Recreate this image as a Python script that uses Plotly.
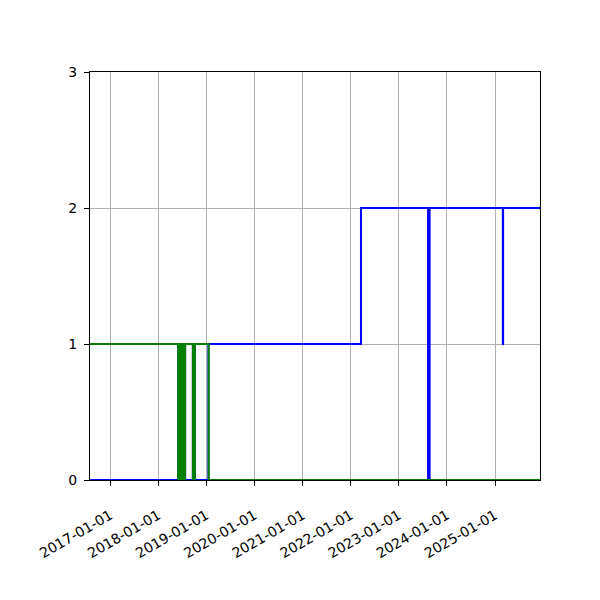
import plotly.graph_objects as go

# Zustandsverlauf (Stufenwerte an Wechselzeitpunkten)
green_dates = [
    "2016-08-01", "2018-06-01", "2018-06-05", "2018-06-09", "2018-06-13",
    "2018-06-17", "2018-06-21", "2018-06-25", "2018-06-29", "2018-07-03",
    "2018-07-07", "2018-07-11", "2018-07-15", "2018-07-19", "2018-07-24",
    "2018-09-21", "2018-10-06", "2019-01-19", "2025-12-08",
]
green_vals = [1, 0, 1, 0, 1, 0, 1, 0, 1, 0, 1, 0, 1, 0, 1, 0, 1, 0, 0]

blue_dates = [
    "2016-08-01", "2018-06-01", "2018-07-24", "2018-09-21", "2018-10-06",
    "2019-01-17", "2022-03-20", "2023-08-11", "2023-08-23", "2025-03-01",
    "2025-03-03", "2025-12-08",
]
blue_vals = [0, 1, 0, 1, 0, 1, 2, 0, 2, 1, 2, 2]

year_ticks = ["2017-01-01", "2018-01-01", "2019-01-01", "2020-01-01",
              "2021-01-01", "2022-01-01", "2023-01-01", "2024-01-01",
              "2025-01-01"]
y_ticks = [0, 1, 2, 3]
x_range = ["2016-08-01", "2025-12-08"]

fig = go.Figure()
fig.add_trace(go.Scatter(x=blue_dates, y=blue_vals, mode="lines",
                         line=dict(color="#0000ff", width=2, shape="hv"),
                         showlegend=False))
fig.add_trace(go.Scatter(x=green_dates, y=green_vals, mode="lines",
                         line=dict(color="#008000", width=2, shape="hv"),
                         showlegend=False))

axis_common = dict(
    showgrid=True, gridcolor="#b0b0b0", gridwidth=1,
    showline=True, linecolor="black", linewidth=1, mirror=True,
    ticks="outside", ticklen=5, tickcolor="black", tickwidth=1,
    zeroline=False,
    tickfont=dict(family="DejaVu Sans", size=14, color="black"),
)

fig.update_xaxes(
    type="date", range=x_range,
    tickvals=year_ticks, ticktext=year_ticks,
    tickangle=-30, ticklabelstandoff=16, **axis_common,
)
fig.update_yaxes(range=[0, 3], tickvals=y_ticks, ticklabelstandoff=4,
                 **axis_common)

# Seite hat 8px Rand -> Figur etwas kleiner, Plotfläche bleibt 450x408
fig.update_layout(
    width=592, height=592,
    margin=dict(l=82, r=60, t=64, b=120),
    plot_bgcolor="white", paper_bgcolor="white",
    font=dict(family="DejaVu Sans"),
)

fig.write_html("out.html")
